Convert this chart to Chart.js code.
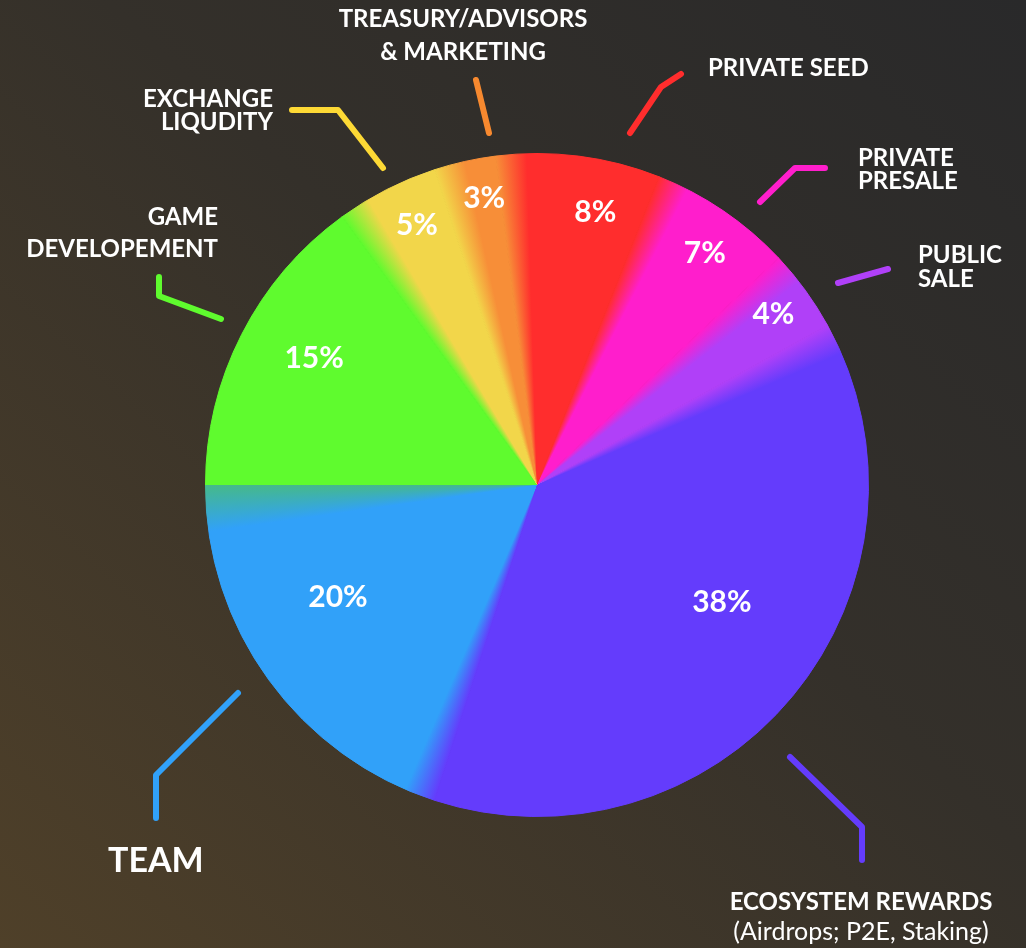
<!DOCTYPE html>
<html><head><meta charset="utf-8">
<script src="https://cdn.jsdelivr.net/npm/chart.js@4.4.1/dist/chart.umd.min.js"></script>
<style>
html,body{margin:0;padding:0;width:1026px;height:948px;overflow:hidden;}
body{background:linear-gradient(to bottom left,#29292a 0%,#34302a 45%,#4f4029 100%);}
canvas{display:block;}
</style></head><body>
<canvas id="c" width="1026" height="948"></canvas>
<script>
// ---- data ----
const categories = ['GAME DEVELOPEMENT','EXCHANGE LIQUDITY','TREASURY/ADVISORS & MARKETING','PRIVATE SEED','PRIVATE PRESALE','PUBLIC SALE','ECOSYSTEM REWARDS (Airdrops; P2E, Staking)','TEAM'];
const values = [15, 5, 3, 8, 7, 4, 38, 20];
const percentLabels = ['15%','5%','3%','8%','7%','4%','38%','20%'];
const sliceColors = ['#5ffb2e','#f2d64a','#f78e38','#ff2d2d','#ff1ecc','#b040f8','#643cfc','#31a1f9'];
const lineColors  = ['#5ffb2e','#fdd935','#f7892f','#ff2d2d','#ff1ecc','#b040f8','#643cfc','#31a1f9'];

// ---- annotation layout (not data) ----
const outerLabels = [
  {lines:['GAME','DEVELOPEMENT'], x:218, ys:[225,257], align:'right', sizes:[24,24], weights:['700','700'], pts:[[159,277],[159,296],[221,319]]},
  {lines:['EXCHANGE','LIQUDITY'], x:273, ys:[107,130], align:'right', sizes:[24,24], weights:['700','700'], pts:[[292,110],[338,110],[383,168]]},
  {lines:['TREASURY/ADVISORS','& MARKETING'], x:463, ys:[27,60], align:'center', sizes:[24,24], weights:['700','700'], pts:[[476,80],[489,133]]},
  {lines:['PRIVATE SEED'], x:708, ys:[76], align:'left', sizes:[24], weights:['700'], pts:[[681,74],[661,87],[630,133]]},
  {lines:['PRIVATE','PRESALE'], x:858, ys:[166,189], align:'left', sizes:[24,24], weights:['700','700'], pts:[[825,168],[795,168],[760,202]]},
  {lines:['PUBLIC','SALE'], x:918, ys:[263,287], align:'left', sizes:[24,24], weights:['700','700'], pts:[[888,269],[838,283]]},
  {lines:['ECOSYSTEM REWARDS','(Airdrops; P2E, Staking)'], x:861, ys:[910,940], align:'center', sizes:[24,25], weights:['700','400'], pts:[[790,757],[862,827],[862,860]]},
  {lines:['TEAM'], x:108, ys:[872], align:'left', sizes:[34], weights:['700'], pts:[[238,693],[156,775],[156,818]]}
];
// position of each percentage inside its slice: fraction along the arc, fraction of radius
const pctPos = [[0.55,0.774],[0.62,0.862],[0.7,0.88],[0.67,0.84],[0.57,0.862],[0.51,0.88],[0.447,0.66],[0.59,0.69]];

let gradCache = null;
function sliceGradient(chart){
  const a = chart.chartArea;
  if(!a) return null;
  const cx=(a.left+a.right)/2, cy=(a.top+a.bottom)/2;
  const key = cx+','+cy;
  if(gradCache && gradCache.key===key) return gradCache.g;
  const ctx = chart.ctx;
  const g = ctx.createConicGradient(Math.PI, cx, cy);
  const total = values.reduce((s,v)=>s+v,0);
  const fade = 0.015;
  let cum = 0;
  const n = values.length;
  for(let i=0;i<n;i++){
    const s = cum/total, e = (cum+values[i])/total;
    if(i===0){ g.addColorStop(0, sliceColors[0]); }
    else { g.addColorStop(s, sliceColors[i-1]); g.addColorStop(Math.min(s+fade,e), sliceColors[i]); }
    if(i===n-1){ g.addColorStop(Math.max(e-fade*1.5,s), sliceColors[i]); g.addColorStop(1, '#45b98a'); }
    cum += values[i];
  }
  gradCache = {key, g};
  return g;
}

const labelPlugin = {
  id:'labelPlugin',
  afterDatasetsDraw(chart){
    const ctx = chart.ctx;
    const meta = chart.getDatasetMeta(0);
    ctx.save();
    ctx.fillStyle = '#ffffff';
    ctx.textAlign = 'center';
    ctx.textBaseline = 'middle';
    ctx.font = '700 30px Lato, "Noto Sans", sans-serif';
    meta.data.forEach((arc,i)=>{
      const p = arc.getProps(['x','y','startAngle','endAngle','outerRadius'], true);
      const ang = p.startAngle + (p.endAngle-p.startAngle)*pctPos[i][0];
      const r = p.outerRadius*pctPos[i][1];
      ctx.fillText(percentLabels[i], p.x+Math.cos(ang)*r, p.y+Math.sin(ang)*r);
    });
    outerLabels.forEach((o,i)=>{
      ctx.strokeStyle = lineColors[i];
      ctx.lineWidth = 6;
      ctx.lineCap = 'round';
      ctx.lineJoin = 'round';
      ctx.beginPath();
      o.pts.forEach((q,k)=>{ if(k===0) ctx.moveTo(q[0],q[1]); else ctx.lineTo(q[0],q[1]); });
      ctx.stroke();
      ctx.fillStyle = '#ffffff';
      ctx.textAlign = o.align;
      ctx.textBaseline = 'alphabetic';
      o.lines.forEach((t,k)=>{
        ctx.font = o.weights[k]+' '+o.sizes[k]+'px Lato, "Noto Sans", sans-serif';
        ctx.fillText(t, o.x, o.ys[k]);
      });
    });
    ctx.restore();
  }
};

new Chart(document.getElementById('c'), {
  type:'pie',
  data:{
    labels: categories,
    datasets:[{
      data: values,
      backgroundColor: (c)=> sliceGradient(c.chart) || sliceColors[c.dataIndex],
      borderColor: (c)=> sliceGradient(c.chart) || sliceColors[c.dataIndex],
      borderWidth: 1,
      hoverOffset: 0
    }]
  },
  options:{
    responsive:false,
    animation:false,
    rotation:-90,
    layout:{padding:{left:205,right:157,top:153,bottom:131}},
    plugins:{legend:{display:false}, tooltip:{enabled:false}},
    events:[]
  },
  plugins:[labelPlugin]
});
</script>
</body></html>
